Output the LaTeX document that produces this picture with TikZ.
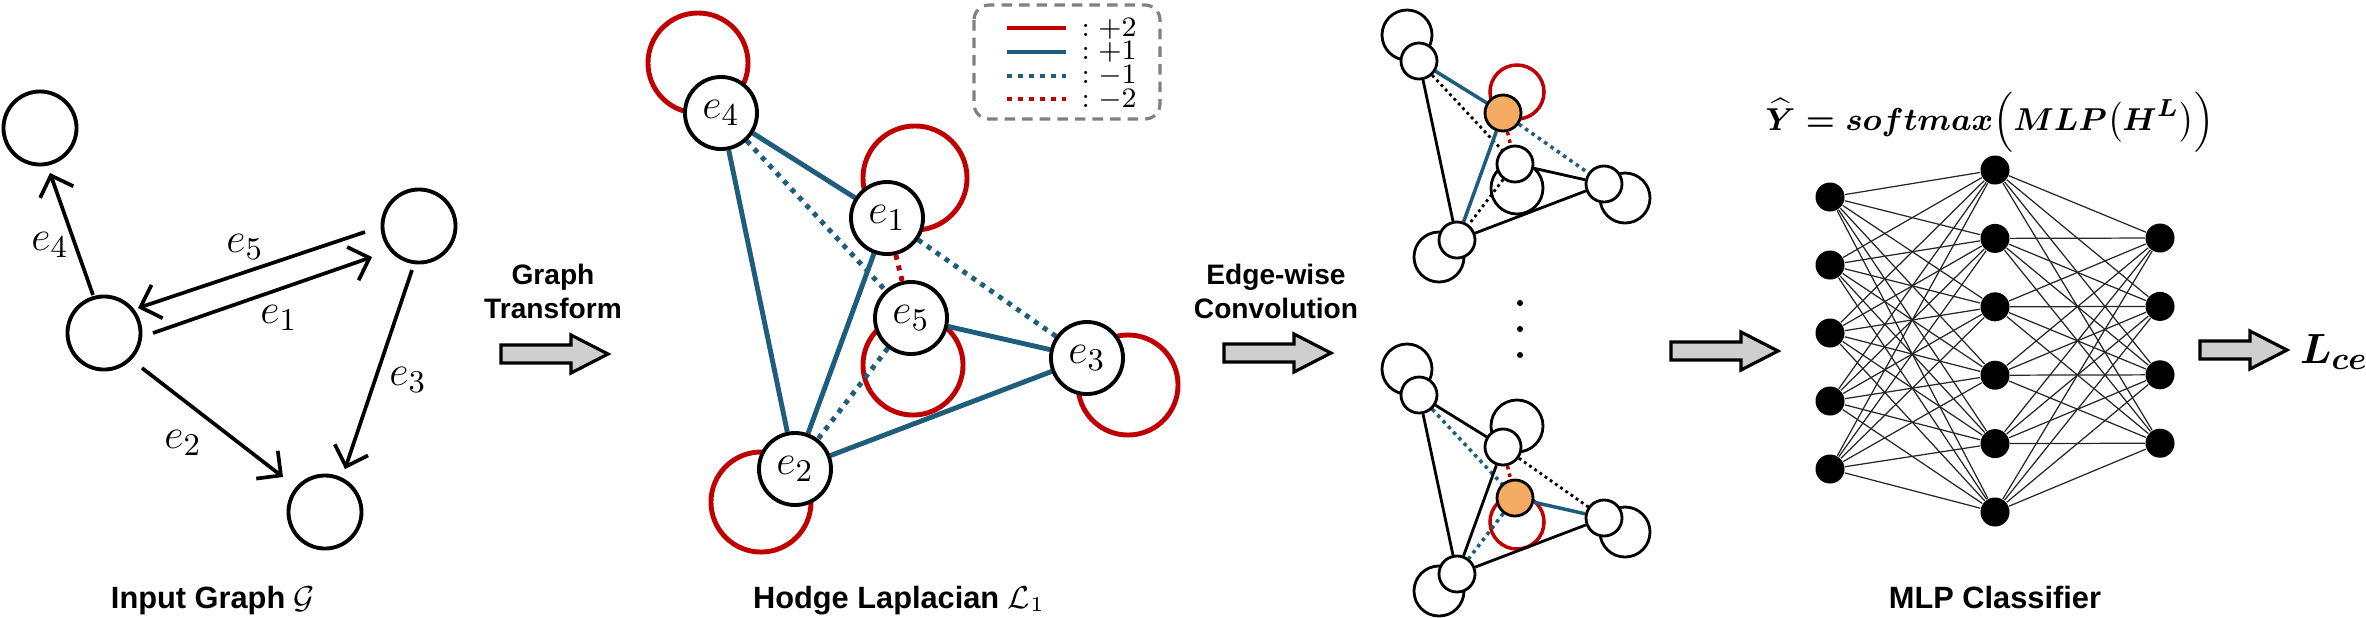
\documentclass[tikz,border=0pt]{standalone}
\usepackage{amsmath, amssymb}
\usepackage[no-math]{fontspec}
\setmainfont{Liberation Sans}
\usepackage{xcolor}
\usepackage{tikz}
\usetikzlibrary{arrows.meta, backgrounds}

\definecolor{hred}{RGB}{192,0,0}
\definecolor{hblue}{RGB}{31,93,124}
\definecolor{horange}{RGB}{243,172,97}
\definecolor{arrgray}{RGB}{208,206,206}

\tikzset{
    vtx/.style={circle, draw, fill=white, line width=1.1pt, minimum size=0.73cm, inner sep=0pt},
    arr/.style={line width=1.05pt, -{Straight Barb[length=5pt, width=10pt]}},
    elab/.style={font=\fontsize{12.5}{14}\selectfont},
    hnode/.style={circle, draw, fill=white, line width=1.1pt, minimum size=0.72cm, inner sep=0pt, font=\fontsize{12.5}{14}\selectfont},
    plustwo/.style={hred, line width=1.4pt},
    plusone/.style={hblue, line width=1.4pt},
    minusone/.style={hblue, line width=1.4pt, dash pattern=on 1.4pt off 1.7pt},
    minustwo/.style={hred, line width=1.4pt, dash pattern=on 1.4pt off 1.7pt},
    legbox/.style={draw=black!50, line width=0.9pt, dash pattern=on 3pt off 2pt, rounded corners=0.15cm},
    legtext/.style={font=\fontsize{8.5}{6.75}\selectfont, inner sep=0pt, align=left},
    snode/.style={circle, draw, fill=white, line width=0.8pt, minimum size=0.36cm, inner sep=0pt},
    sloop/.style={line width=0.8pt},
    sredloop/.style={hred, line width=1pt},
    sblack/.style={line width=0.8pt},
    sdot/.style={line width=0.8pt, dash pattern=on 0.8pt off 1pt},
    sblue/.style={hblue, line width=1pt},
    sbluedot/.style={hblue, line width=1pt, dash pattern=on 1pt off 1.2pt},
    sreddot/.style={hred, line width=1pt, dash pattern=on 1pt off 1.2pt},
    blockarr/.style={draw, line width=0.9pt, fill=arrgray},
    neuron/.style={circle, fill=black, minimum size=0.29cm, inner sep=0pt},
    synapse/.style={line width=0.35pt, black!85},
    caption/.style={font=\fontsize{8.75}{10}\selectfont\bfseries, anchor=base},
    steplabel/.style={font=\fontsize{8}{9.7}\selectfont\bfseries, align=center}
}

\begin{document}
\begin{tikzpicture}[x=0.01cm, y=-0.01cm]
    \useasboundingbox (0,0) rectangle (2366,617);

    % Đồ thị đầu vào
    \node[vtx] (g1) at (40,128) {};
    \node[vtx] (g2) at (104,333) {};
    \node[vtx] (g3) at (419,226) {};
    \node[vtx] (g4) at (325,512) {};
    \draw[arr] ([shift={(-11,-38)}]g2.center) -- ([shift={(10,45)}]g1.center);
    \draw[arr] ([shift={(-54,6)}]g3.center) -- ([shift={(34,-25)}]g2.center);
    \draw[arr] ([shift={(49,0)}]g2.center) -- ([shift={(-47,31)}]g3.center);
    \draw[arr] ([shift={(38,35)}]g2.center) -- ([shift={(-42,-35)}]g4.center);
    \draw[arr] ([shift={(-7,44)}]g3.center) -- ([shift={(20,-43)}]g4.center);
    \node[elab] (l4) at (50,245) {$e_4$};
    \node[elab] (l5) at (245,247) {$e_5$};
    \node[elab] (l1) at (279,318) {$e_1$};
    \node[elab] (l2) at (183,443) {$e_2$};
    \node[elab] (l3) at (408,380) {$e_3$};
    \node[caption] (cap1) at (213,608) {Input Graph $\mathcal{G}$};

    % Mũi tên khối
    \foreach \x/\y/\len in {501/354/70, 1224/353/70, 1671/351/70, 2200/350/50}
        \draw[blockarr] (\x,\y-9) -- ++(\len,0) -- ++(0,-10) -- ++(37,19)
            -- ++(-37,19) -- ++(0,-10) -- ++(-\len,0) -- cycle;
    \node[steplabel] (t1) at (553,291) {Graph\\Transform};
    \node[steplabel] (t2) at (1276,291) {Edge-wise\\Convolution};

    % Laplacian Hodge
    \node[hnode] (h4) at (721,113) {$e_4$};
    \node[hnode] (h1) at (887,218) {$e_1$};
    \node[hnode] (h5) at (911,318) {$e_5$};
    \node[hnode] (h3) at (1087,358) {$e_3$};
    \node[hnode] (h2) at (795,469) {$e_2$};
    \begin{scope}[on background layer]
        \draw[plustwo] ([shift={(-23,-50)}]h4.center) circle[radius=0.5cm];
        \draw[plustwo] ([shift={(28,-40)}]h1.center) circle[radius=0.52cm];
        \draw[plustwo] ([shift={(2,47)}]h5.center) circle[radius=0.5cm];
        \draw[plustwo] ([shift={(41,27)}]h3.center) circle[radius=0.5cm];
        \draw[plustwo] ([shift={(-34,33)}]h2.center) circle[radius=0.5cm];
        \draw[plusone] (h4) -- (h1);
        \draw[plusone] (h4) -- (h2);
        \draw[minusone] (h4) -- (h5);
        \draw[minustwo] (h1) -- (h5);
        \draw[minusone] (h1) -- (h3);
        \draw[plusone] (h1) -- (h2);
        \draw[plusone] (h5) -- (h3);
        \draw[minusone] (h5) -- (h2);
        \draw[plusone] (h2) -- (h3);
    \end{scope}
    \node[caption] (cap2) at (899,608) {Hodge Laplacian $\mathcal{L}_1$};

    % Chú thích
    \draw[legbox] (974,5) rectangle (1160,119);
    \foreach \y/\sty in {28/plustwo, 52/plusone, 76/minusone, 99/minustwo}
        \draw[\sty] (1007,\y) -- (1066,\y);
    \node[legtext, anchor=west] (legtxt) at (1081,64)
        {$:{+2}$\\$:{+1}$\\$:{-1}$\\$:{-2}$};

    % Tích chập theo cạnh (trên)
    \node[snode] (u4) at (1419,61) {};
    \node[snode, fill=horange] (u1) at (1503,113) {};
    \node[snode] (u5) at (1515,164) {};
    \node[snode] (u3) at (1604,184) {};
    \node[snode] (u2) at (1457,240) {};
    \begin{scope}[on background layer]
        \draw[sloop] ([shift={(-12,-26)}]u4.center) circle[radius=0.25cm];
        \draw[sredloop] ([shift={(14,-21)}]u1.center) circle[radius=0.27cm];
        \draw[sloop] ([shift={(2,24)}]u5.center) circle[radius=0.26cm];
        \draw[sloop] ([shift={(21,14)}]u3.center) circle[radius=0.25cm];
        \draw[sloop] ([shift={(-18,17)}]u2.center) circle[radius=0.25cm];
        \draw[sblue] (u4) -- (u1);
        \draw[sblack] (u4) -- (u2);
        \draw[sdot] (u4) -- (u5);
        \draw[sreddot] (u1) -- (u5);
        \draw[sbluedot] (u1) -- (u3);
        \draw[sblue] (u1) -- (u2);
        \draw[sblack] (u5) -- (u3);
        \draw[sdot] (u5) -- (u2);
        \draw[sblack] (u2) -- (u3);
    \end{scope}

    \foreach \y in {303,329,355}
        \fill (1520,\y) circle[radius=0.03cm];

    % Tích chập theo cạnh (dưới)
    \begin{scope}[shift={(0,334)}]
        \node[snode] (w4) at (1419,61) {};
        \node[snode] (w1) at (1503,113) {};
        \node[snode, fill=horange] (w5) at (1515,164) {};
        \node[snode] (w3) at (1604,184) {};
        \node[snode] (w2) at (1457,240) {};
        \begin{scope}[on background layer]
            \draw[sloop] ([shift={(-12,-26)}]w4.center) circle[radius=0.25cm];
            \draw[sloop] ([shift={(14,-21)}]w1.center) circle[radius=0.26cm];
            \draw[sredloop] ([shift={(2,24)}]w5.center) circle[radius=0.27cm];
            \draw[sloop] ([shift={(21,14)}]w3.center) circle[radius=0.25cm];
            \draw[sloop] ([shift={(-18,17)}]w2.center) circle[radius=0.25cm];
            \draw[sblack] (w4) -- (w1);
            \draw[sblack] (w4) -- (w2);
            \draw[sbluedot] (w4) -- (w5);
            \draw[sreddot] (w1) -- (w5);
            \draw[sdot] (w1) -- (w3);
            \draw[sblack] (w1) -- (w2);
            \draw[sblue] (w5) -- (w3);
            \draw[sbluedot] (w5) -- (w2);
            \draw[sblack] (w2) -- (w3);
        \end{scope}
    \end{scope}

    % Bộ phân loại MLP
    \foreach \i in {1,...,5}
        \node[neuron] (a\i) at (1830,129+68*\i) {};
    \foreach \i in {1,...,6}
        \node[neuron] (b\i) at (1995,101.6+68.4*\i) {};
    \foreach \i in {1,...,4}
        \node[neuron] (c\i) at (2160,169.6+68.4*\i) {};
    \begin{scope}[on background layer]
        \foreach \i in {1,...,5}
            \foreach \j in {1,...,6}
                \draw[synapse] (a\i) -- (b\j);
        \foreach \j in {1,...,6}
            \foreach \k in {1,...,4}
                \draw[synapse] (b\j) -- (c\k);
    \end{scope}
    \node[anchor=base] (yhat) at (1990,130)
        {\fontsize{9.5}{11}\selectfont$\boldsymbol{\widehat{Y} = softmax\Bigl(MLP\bigl(H^{L}\bigr)\Bigr)}$};
    \node[caption] (cap4) at (1995,608) {MLP Classifier};
    \node (loss) at (2334,352) {\fontsize{13}{15}\selectfont$\boldsymbol{L_{ce}}$};
\end{tikzpicture}
\end{document}
